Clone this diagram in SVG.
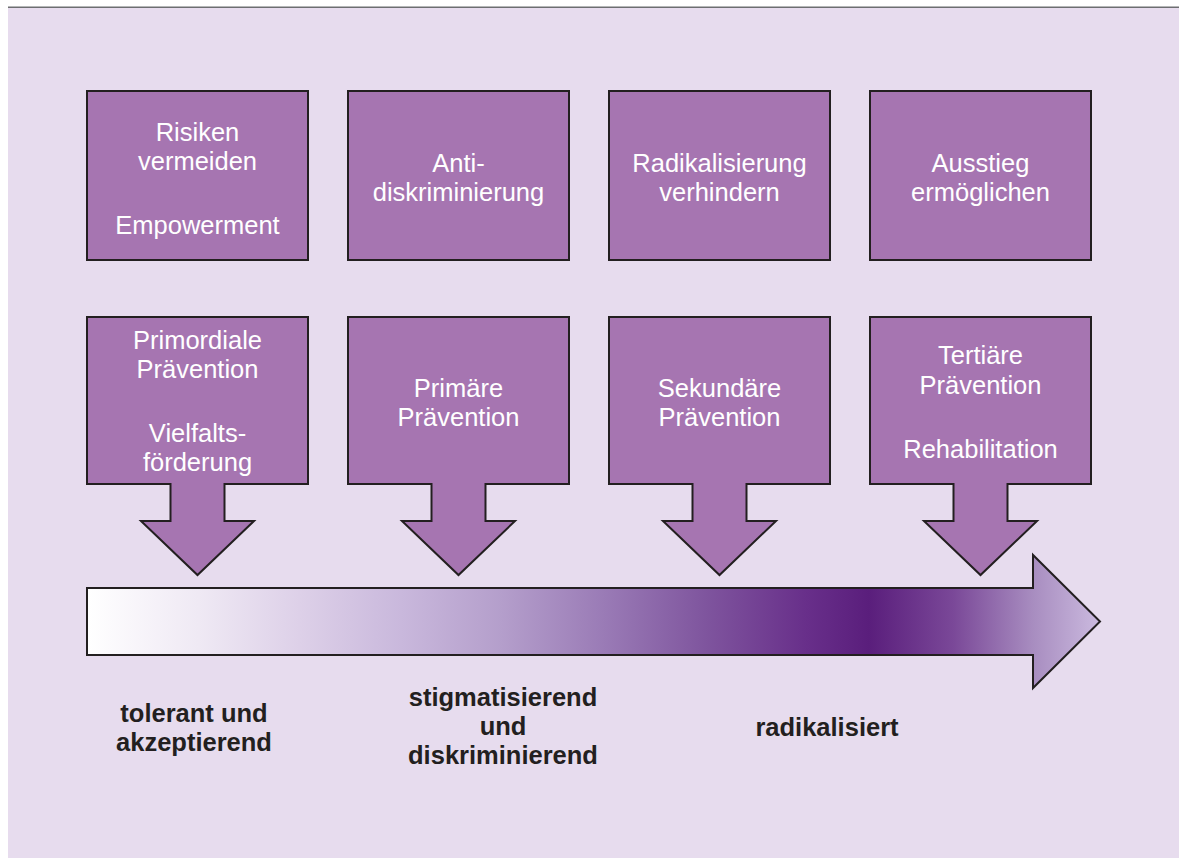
<svg xmlns="http://www.w3.org/2000/svg" width="1179" height="858" viewBox="0 0 1179 858">
<defs>
<linearGradient id="grad" x1="87" y1="0" x2="1100" y2="0" gradientUnits="userSpaceOnUse">
<stop offset="0" stop-color="#ffffff"/>
<stop offset="0.11" stop-color="#efe9f4"/>
<stop offset="0.21" stop-color="#ddd0e8"/>
<stop offset="0.31" stop-color="#c9b8dc"/>
<stop offset="0.41" stop-color="#b49ecb"/>
<stop offset="0.51" stop-color="#9a7bb6"/>
<stop offset="0.61" stop-color="#7f559e"/>
<stop offset="0.71" stop-color="#682f8a"/>
<stop offset="0.772" stop-color="#5a1e7c"/>
<stop offset="0.855" stop-color="#7a4898"/>
<stop offset="0.934" stop-color="#a88dc0"/>
<stop offset="1" stop-color="#cbbadf"/>
</linearGradient>
<style>
.box{fill:#a675b1;stroke:#231f20;stroke-width:2;stroke-linejoin:miter}
.t{font-family:"Liberation Sans",Arial,sans-serif;font-size:25.5px;fill:#ffffff;text-anchor:middle}
.b{font-family:"Liberation Sans",Arial,sans-serif;font-size:25.5px;font-weight:bold;fill:#231f20;text-anchor:middle}
</style>
</defs>
<rect x="0" y="0" width="1179" height="858" fill="#ffffff"/>
<rect x="8" y="8" width="1171" height="850" fill="#e7dcee"/>
<line x1="8" y1="7.3" x2="1179" y2="7.3" stroke="#6d6e71" stroke-width="1.5"/>

<g id="connectors">
<path id="scale-arrow" d="M87,588 H1033 V555 L1100,621.5 L1033,688 V655 H87 Z" fill="url(#grad)" stroke="#231f20" stroke-width="2"/>
</g>

<g id="box-risiken">
<rect class="box" x="87" y="91" width="221" height="169"/>
<text class="t" x="197.5" y="141">Risiken</text>
<text class="t" x="197.5" y="170">vermeiden</text>
<text class="t" x="197.5" y="234">Empowerment</text>
</g>
<g id="box-anti">
<rect class="box" x="348" y="91" width="221" height="169"/>
<text class="t" x="458.5" y="172">Anti-</text>
<text class="t" x="458.5" y="201">diskriminierung</text>
</g>
<g id="box-radikal">
<rect class="box" x="609" y="91" width="221" height="169"/>
<text class="t" x="719.5" y="172">Radikalisierung</text>
<text class="t" x="719.5" y="201">verhindern</text>
</g>
<g id="box-ausstieg">
<rect class="box" x="870" y="91" width="221" height="169"/>
<text class="t" x="980.5" y="172">Ausstieg</text>
<text class="t" x="980.5" y="201">ermöglichen</text>
</g>

<g id="arrow-primordial">
<path class="box" d="M87,317 H308 V484 H224.5 V521 H254 L197.5,575 L141,521 H170.5 V484 H87 Z"/>
<text class="t" x="197.5" y="349">Primordiale</text>
<text class="t" x="197.5" y="378">Prävention</text>
<text class="t" x="197.5" y="442">Vielfalts-</text>
<text class="t" x="197.5" y="471">förderung</text>
</g>
<g id="arrow-primaer">
<path class="box" d="M348,317 H569 V484 H485.5 V521 H515 L458.5,575 L402,521 H431.5 V484 H348 Z"/>
<text class="t" x="458.5" y="397">Primäre</text>
<text class="t" x="458.5" y="426">Prävention</text>
</g>
<g id="arrow-sekundaer">
<path class="box" d="M609,317 H830 V484 H746.5 V521 H776 L719.5,575 L663,521 H692.5 V484 H609 Z"/>
<text class="t" x="719.5" y="397">Sekundäre</text>
<text class="t" x="719.5" y="426">Prävention</text>
</g>
<g id="arrow-tertiaer">
<path class="box" d="M870,317 H1091 V484 H1007.5 V521 H1037 L980.5,575 L924,521 H953.5 V484 H870 Z"/>
<text class="t" x="980.5" y="364">Tertiäre</text>
<text class="t" x="980.5" y="394">Prävention</text>
<text class="t" x="980.5" y="458">Rehabilitation</text>
</g>

<g id="label-tolerant">
<text class="b" x="194" y="722">tolerant und</text>
<text class="b" x="194" y="751">akzeptierend</text>
</g>
<g id="label-stigma">
<text class="b" x="503" y="706">stigmatisierend</text>
<text class="b" x="503" y="735">und</text>
<text class="b" x="503" y="764">diskriminierend</text>
</g>
<g id="label-radikal">
<text class="b" x="827" y="736">radikalisiert</text>
</g>
</svg>
